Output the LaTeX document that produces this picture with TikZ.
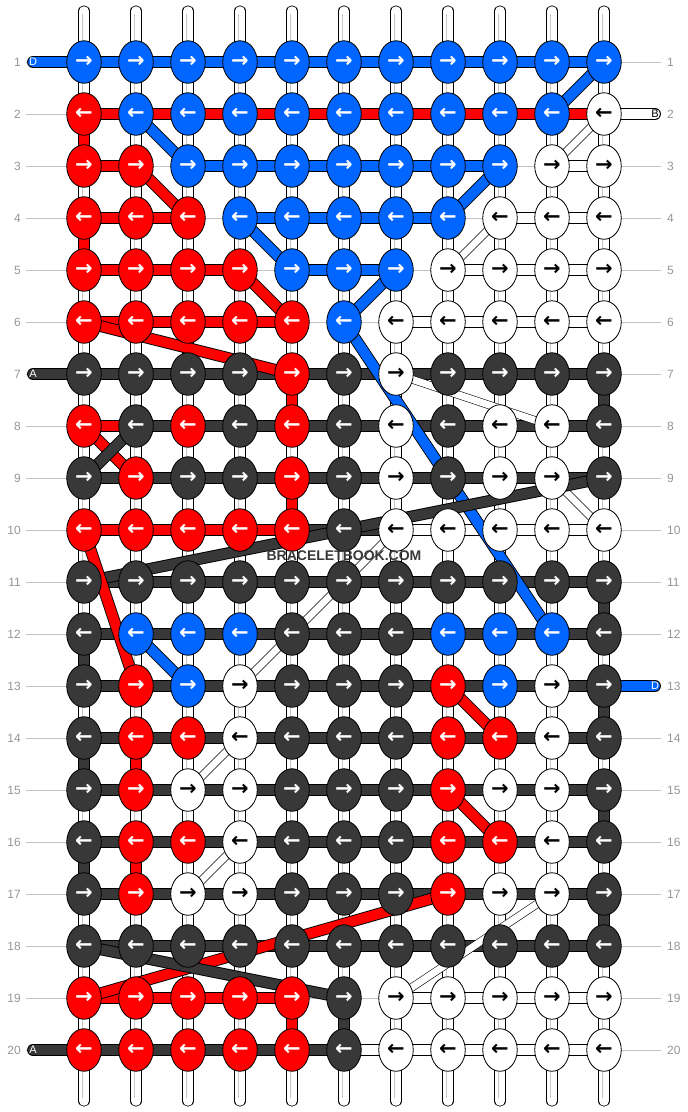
\documentclass[tikz,border=0pt]{standalone}
\usepackage{fontspec}
\setmainfont{Liberation Sans}
\newfontfamily\flechas{DejaVu Sans}
\usetikzlibrary{shapes, positioning}
\definecolor{azul}{RGB}{0,102,255}
\definecolor{rojo}{RGB}{255,0,0}
\definecolor{oscuro}{RGB}{56,56,56}
\definecolor{guia}{RGB}{195,195,195}
\definecolor{cifra}{RGB}{150,150,150}
\colorlet{blanco}{white}
\colorlet{colB}{azul}\colorlet{colR}{rojo}\colorlet{colD}{oscuro}\colorlet{colW}{white}
\colorlet{txtB}{white}\colorlet{txtR}{white}\colorlet{txtD}{white}\colorlet{txtW}{black}
\pgfdeclarelayer{fondo}
\pgfdeclarelayer{hilos}
\pgfsetlayers{fondo,hilos,main}
\tikzstyle{nudo} = [draw=black, ellipse, line width=0.8pt, minimum width=34.5pt, minimum height=42.5pt, inner sep=0pt, font=\flechas\bfseries\fontsize{21}{21}\selectfont]
\tikzstyle{columna} = [draw=black, line width=0.8pt, double=white, double distance=9.5pt, line cap=round]
\tikzstyle{columnafina} = [draw=gray!45, line width=0.7pt, double=white, double distance=3pt, shorten <=3pt, shorten >=3pt]
\tikzstyle{guialinea} = [draw=guia, line width=0.8pt]
\tikzstyle{numero} = [text=cifra, inner sep=0pt, font=\fontsize{12}{12}\selectfont]
\tikzstyle{letra} = [inner sep=0pt, font=\fontsize{11}{11}\selectfont]
\tikzstyle{hebra} = [draw=black, line width=0.6pt, double=white, double distance=7pt]
\tikzset{barra/.style={draw=black, line width=0.9pt, double=#1, double distance=10pt}}

\begin{document}
\begin{tikzpicture}[x=1pt, y=-1pt]
	\useasboundingbox (0,0) rectangle (688,1112);
	% nudos
	\foreach \r/\fila in {
		1/{B,B,B,B,B,B,B,B,B,B,B},
		2/{R,B,B,B,B,B,B,B,B,B,W},
		3/{R,R,B,B,B,B,B,B,B,W,W},
		4/{R,R,R,B,B,B,B,B,W,W,W},
		5/{R,R,R,R,B,B,B,W,W,W,W},
		6/{R,R,R,R,R,B,W,W,W,W,W},
		7/{D,D,D,D,R,D,W,D,D,D,D},
		8/{R,D,R,D,R,D,W,D,W,W,D},
		9/{D,R,D,D,R,D,W,D,W,W,D},
		10/{R,R,R,R,R,D,W,W,W,W,W},
		11/{D,D,D,D,D,D,D,D,D,D,D},
		12/{D,B,B,B,D,D,D,B,B,B,D},
		13/{D,R,B,W,D,D,D,R,B,W,D},
		14/{D,R,R,W,D,D,D,R,R,W,D},
		15/{D,R,W,W,D,D,D,R,W,W,D},
		16/{D,R,R,W,D,D,D,R,R,W,D},
		17/{D,R,W,W,D,D,D,R,W,W,D},
		18/{D,D,D,D,D,D,D,D,D,D,D},
		19/{R,R,R,R,R,D,W,W,W,W,W},
		20/{R,R,R,R,R,D,W,W,W,W,W}}{
		\foreach \k [count=\c from 0] in \fila {
			\node[nudo, fill=col\k, text=txt\k] (n-\r-\c) at ({84+52*\c},{62+52*(\r-1)}) {\ifodd\r →\else ←\fi};
		}
	}
	% guias y numeros de fila
	\foreach \r in {1,...,20}{
		\coordinate (gi-\r) at (26,{62+52*(\r-1)});
		\coordinate (gd-\r) at (661,{62+52*(\r-1)});
		\begin{pgfonlayer}{fondo}
			\draw[guialinea] (gi-\r) -- (gd-\r);
		\end{pgfonlayer}
		\node[numero, left=5pt of gi-\r] (ni-\r) {\r};
		\node[numero, right=6pt of gd-\r] (nd-\r) {\r};
	}
	% hilos verticales
	\foreach \c in {0,...,10}{
		\coordinate (ca-\c) at ({84+52*\c},11);
		\coordinate (cb-\c) at ({84+52*\c},1101);
		\begin{pgfonlayer}{fondo}
			\draw[columna] (ca-\c) -- (cb-\c);
			\draw[columnafina] (ca-\c) -- (cb-\c);
		\end{pgfonlayer}
	}
	\begin{pgfonlayer}{hilos}
		% tramos horizontales
		\foreach \r/\a/\b/\tinte in {1/0/10/azul, 2/0/10/rojo,
			3/0/1/rojo, 3/2/8/azul, 3/9/10/blanco,
			4/0/2/rojo, 4/3/7/azul, 4/8/10/blanco,
			5/0/3/rojo, 5/4/6/azul, 5/7/10/blanco,
			6/0/4/rojo, 6/6/10/blanco,
			7/0/10/oscuro, 8/0/1/rojo, 8/1/10/oscuro, 9/0/10/oscuro,
			10/0/4/rojo, 10/4/6/oscuro, 10/6/10/blanco,
			11/0/10/oscuro, 12/0/10/oscuro, 13/0/10/oscuro, 14/0/10/oscuro,
			15/0/10/oscuro, 16/0/10/oscuro, 17/0/10/oscuro, 18/0/10/oscuro,
			19/0/4/rojo, 19/6/10/blanco,
			20/0/5/oscuro, 20/5/10/blanco}
			\draw[barra=\tinte] (n-\r-\a.center) -- (n-\r-\b.center);
		% tramos verticales
		\foreach \c/\a/\b/\tinte in {0/2/3/rojo, 0/4/5/rojo, 4/7/8/rojo, 4/9/10/rojo,
			10/7/8/oscuro, 0/12/13/oscuro, 0/14/15/oscuro, 0/16/17/oscuro,
			1/14/15/rojo, 1/16/17/rojo, 10/11/12/oscuro, 10/13/14/oscuro,
			10/15/16/oscuro, 10/17/18/oscuro, 4/19/20/rojo, 5/19/20/oscuro}
			\draw[barra=\tinte] (n-\a-\c.center) -- (n-\b-\c.center);
		% hebras blancas
		\foreach \ra/\ca/\rb/\cb in {2/10/3/9, 4/8/5/7, 7/6/8/9, 9/9/10/10,
			10/6/13/3, 14/3/15/2, 16/3/17/2, 17/9/19/6}
			\draw[hebra] (n-\ra-\ca.center) -- (n-\rb-\cb.center);
		% diagonales de color
		\foreach \ra/\ca/\rb/\cb/\tinte in {2/1/3/2/azul, 1/10/2/9/azul,
			4/3/5/4/azul, 3/8/4/7/azul, 5/6/6/5/azul, 12/1/13/2/azul,
			3/1/4/2/rojo, 5/3/6/4/rojo, 6/0/7/4/rojo,
			13/7/14/8/rojo, 15/7/16/8/rojo,
			8/0/9/1/rojo, 8/1/9/0/oscuro,
			6/5/12/9/azul, 11/0/9/10/oscuro, 10/0/13/1/rojo,
			19/0/17/7/rojo, 18/0/19/5/oscuro}
			\draw[barra=\tinte] (n-\ra-\ca.center) -- (n-\rb-\cb.center);
		% cabos
		\coordinate (ti-1) at (33,62);
		\coordinate (ti-7) at (33,374);
		\coordinate (ti-20) at (33,1050);
		\coordinate (td-2) at (655,114);
		\coordinate (td-13) at (655,686);
		\draw[barra=azul, line cap=round] (ti-1) -- (n-1-0.center);
		\draw[barra=oscuro, line cap=round] (ti-7) -- (n-7-0.center);
		\draw[barra=oscuro, line cap=round] (ti-20) -- (n-20-0.center);
		\draw[barra=blanco, line cap=round] (n-2-10.center) -- (td-2);
		\draw[barra=azul, line cap=round] (n-13-10.center) -- (td-13);
	\end{pgfonlayer}
	\node[letra, text=white] (li-1) at (ti-1) {D};
	\node[letra, text=white] (li-7) at (ti-7) {A};
	\node[letra, text=white] (li-20) at (ti-20) {A};
	\node[letra, text=black] (ld-2) at (td-2) {B};
	\node[letra, text=white] (ld-13) at (td-13) {D};
	\node[text=oscuro, font=\bfseries\fontsize{14}{14}\selectfont] (marca) at (344,556) {BRACELETBOOK.COM};
\end{tikzpicture}
\end{document}
